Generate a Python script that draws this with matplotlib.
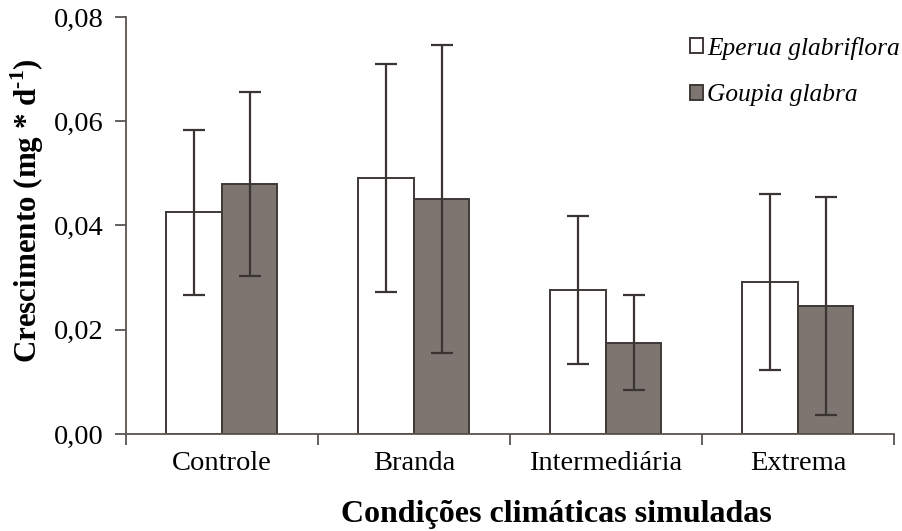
import numpy as np
import matplotlib
matplotlib.use("Agg")
import matplotlib.pyplot as plt

plt.rcParams['font.family'] = ['Liberation Serif', 'DejaVu Serif']
plt.rcParams['mathtext.fontset'] = 'custom'
plt.rcParams['mathtext.rm'] = 'Liberation Serif:bold'
plt.rcParams['mathtext.bf'] = 'Liberation Serif:bold'

categories = ["Controle", "Branda", "Intermediária", "Extrema"]
eperua = [0.0425, 0.0491, 0.0276, 0.0292]
eperua_err = [0.0159, 0.0218, 0.0142, 0.0169]
goupia = [0.0480, 0.0451, 0.0175, 0.0246]
goupia_err = [0.0176, 0.0295, 0.0091, 0.0209]
yticks = [0.0, 0.02, 0.04, 0.06, 0.08]

edge = "#3e3936"
gray = "#7d7570"

fig = plt.figure(figsize=(9.03, 5.31), dpi=100)
ax = fig.add_axes([0.1395, 0.1827, 0.8505, 0.7853])

x = np.arange(len(categories))
w = 0.289
err_kw = dict(ecolor="#3a3532", elinewidth=1.6, capsize=8, capthick=1.6)
ax.bar(x - w / 2, eperua, w, yerr=eperua_err, color="white", edgecolor=edge,
       linewidth=1.4, error_kw=err_kw, label="Eperua glabriflora")
ax.bar(x + w / 2, goupia, w, yerr=goupia_err, color=gray, edgecolor=edge,
       linewidth=1.4, error_kw=err_kw, label="Goupia glabra")

ax.set_xlim(-0.5, len(categories) - 0.5)
ax.set_ylim(0, 0.08)
ax.set_yticks(yticks)
ax.set_yticklabels([f"{v:.2f}".replace(".", ",") for v in yticks], fontsize=20.5)

# ticks at category borders, labels at centres
ax.set_xticks(np.arange(-0.5, len(categories), 1.0))
ax.set_xticklabels([])
ax.set_xticks(x, minor=True)
ax.set_xticklabels(categories, minor=True, fontsize=20.5)
ax.tick_params(axis="x", which="minor", length=0, pad=12)
ax.tick_params(axis="y", pad=8)
ax.tick_params(axis="both", which="major", direction="out", length=8,
               width=1.3, color="#5a5450")

for s in ["top", "right"]:
    ax.spines[s].set_visible(False)
for s in ["left", "bottom"]:
    ax.spines[s].set_color("#5a5450")
    ax.spines[s].set_linewidth(1.3)

ax.set_ylabel("Crescimento (mg * d$^{\\text{-1}}$)", fontsize=22.3,
              fontweight="bold")
ax.yaxis.set_label_coords(-0.104, 0.535)
ax.set_xlabel("Condições climáticas simuladas", fontsize=23,
              fontweight="bold")
ax.xaxis.set_label_coords(0.56, -0.159)

leg = ax.legend(loc="upper right", bbox_to_anchor=(1.008, 0.95),
                bbox_transform=fig.transFigure, frameon=False,
                prop={"family": "Liberation Serif", "style": "italic", "size": 18.3},
                handlelength=0.52, handleheight=0.52, handletextpad=0.15,
                labelspacing=0.97, borderaxespad=0)

fig.savefig("out.png", dpi=100)
